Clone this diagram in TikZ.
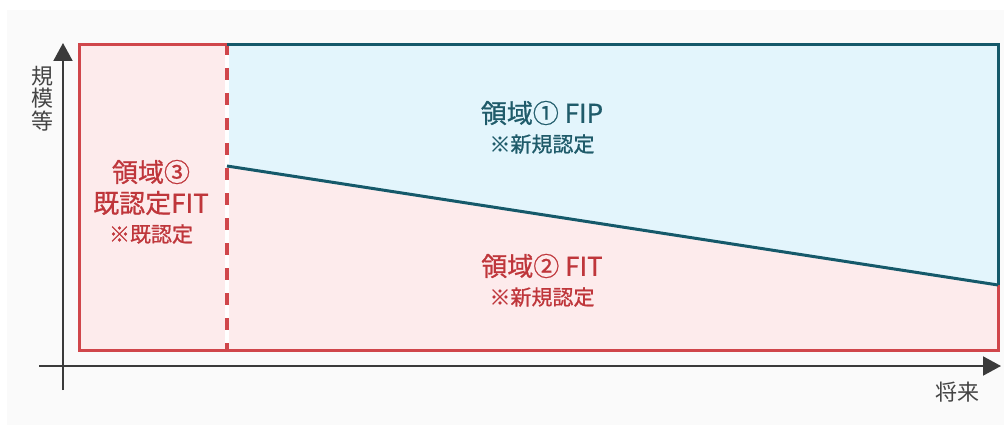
\documentclass[tikz,border=0pt]{standalone}
\usepackage{fontspec}
\setmainfont{Noto Sans CJK JP}
\newfontfamily\medf{Noto Sans CJK JP}[UprightFeatures={FakeBold=0.8}]
\usetikzlibrary{arrows.meta}
\definecolor{bg}{HTML}{FAFAFA}
\definecolor{pinkfill}{HTML}{FDEBEC}
\definecolor{bluefill}{HTML}{E3F5FC}
\definecolor{redline}{HTML}{D0464B}
\definecolor{redtext}{HTML}{BF363B}
\definecolor{tealline}{HTML}{15596A}
\definecolor{tealtext}{HTML}{1F5B6A}
\definecolor{axiscol}{HTML}{3A3A3A}
\definecolor{axtext}{HTML}{444444}
\tikzset{
  bigtxt/.style={inner sep=0pt, font=\fontsize{26}{30}\selectfont\medf},
  smalltxt/.style={inner sep=0pt, font=\fontsize{21}{24}\selectfont\medf},
  axisline/.style={axiscol, line width=2pt, -{Triangle[length=18pt,width=19pt]}},
  redborder/.style={redline, line width=3pt, line join=miter},
  tealborder/.style={tealline, line width=3pt, line join=miter},
}
\begin{document}
\begin{tikzpicture}[x=1pt,y=-1pt]
\useasboundingbox (0,0) rectangle (1004,425);
\fill[bg] (7,10) rectangle (1004,425);
% corner coordinates
\coordinate (TL) at (79,45);
\coordinate (TR) at (998,45);
\coordinate (BL) at (79,350);
\coordinate (BR) at (998,350);
\coordinate (DT) at (227,45);
\coordinate (DB) at (227,350);
\coordinate (LS) at (227,166);
\coordinate (LE) at (998,285);
% fills
\fill[pinkfill] (TL) rectangle (BR);
\fill[bluefill] (DT) -- (TR) -- (LE) -- (LS) -- cycle;
% dashed divider
\draw[white, line width=4pt] (DT) -- (DB);
\draw[redline, line width=4pt, dash pattern=on 12pt off 13pt, dash phase=2pt] (DT) -- (DB);
% borders
\draw[redborder] (DT) -- (TL) -- (BL) -- (BR) -- (LE);
\draw[tealborder] (DT) -- (TR) -- (LE);
\draw[tealborder] (LS) -- (LE);
% axes
\coordinate (yb) at (63,390);
\coordinate (yt) at (63,43);
\coordinate (xl) at (39,366);
\coordinate (xr) at (1001,366);
\draw[axisline] (yb) -- (yt);
\draw[axisline] (xl) -- (xr);
% axis labels
\node[inner sep=0pt, text=axtext, align=center, font=\fontsize{22}{22.5}\selectfont] (ylab) at (42.5,98.5) {規\\模\\等};
\node[inner sep=0pt, text=axtext, font=\fontsize{22}{24}\selectfont] (xlab) at (957,392) {将来};
% region labels
\node[bigtxt, text=tealtext] (r1a) at (542,113) {領域① FIP};
\node[smalltxt, text=tealtext] (r1b) at (542,144) {※新規認定};
\node[bigtxt, text=redtext] (r2a) at (542,266) {領域② FIT};
\node[smalltxt, text=redtext] (r2b) at (542,297) {※新規認定};
\node[bigtxt, text=redtext] (r3a) at (151,172) {領域③};
\node[bigtxt, text=redtext] (r3b) at (151,203) {既認定FIT};
\node[smalltxt, text=redtext] (r3c) at (151,234) {※既認定};
\end{tikzpicture}
\end{document}
